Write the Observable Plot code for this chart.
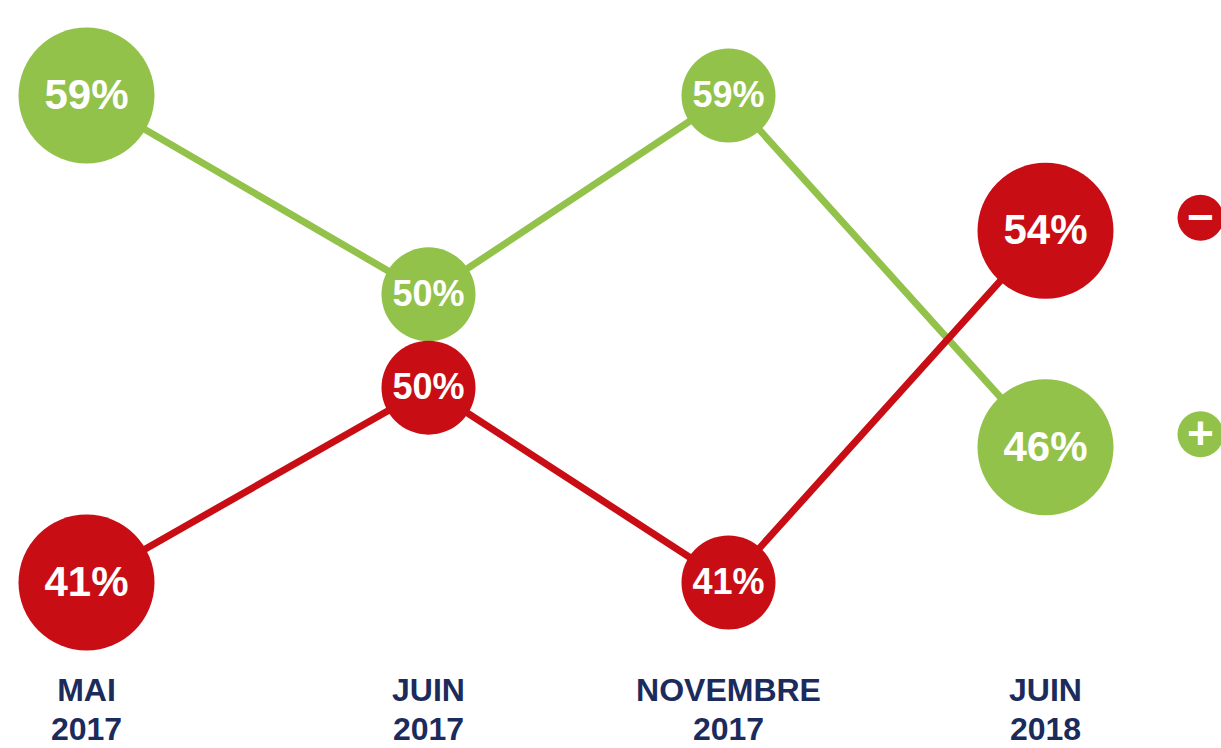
<!DOCTYPE html>
<html><head><meta charset="utf-8">
<script src="https://cdn.jsdelivr.net/npm/d3@7"></script>
<script src="https://cdn.jsdelivr.net/npm/@observablehq/plot@0.6"></script>
<style>
body{margin:0;background:#fff}
#chart svg{display:block}
</style>
</head><body><div id="chart"></div>
<script>
// ---- data ----
const periods = ["MAI 2017", "JUIN 2017", "NOVEMBRE 2017", "JUIN 2018"];
const periodLabels = ["MAI\n2017", "JUIN\n2017", "NOVEMBRE\n2017", "JUIN\n2018"];
const seriesNames = ["plus", "moins"];
const plusValues = [59, 50, 59, 46];   // green series (+)
const minusValues = [41, 50, 41, 54];  // red series (−)
const iconGlyphs = ["−", "+"];

// ---- styles ----
const GREEN = "#93c24b", RED = "#c90d14", NAVY = "#1b2b5c";
const colors = {plus: GREEN, moins: RED};
const FONT = "Liberation Sans, Arial, sans-serif";

// rows
const rows = [];
periods.forEach((p, i) => {
  const tie = plusValues[i] === minusValues[i];
  rows.push({period: p, i, series: "plus", value: plusValues[i], yv: plusValues[i] + (tie ? 1.65 : 0)});
  rows.push({period: p, i, series: "moins", value: minusValues[i], yv: minusValues[i] - (tie ? 1.8 : 0)});
});
const last = periods.length - 1;
const isEnd = d => d.i === 0 || d.i === last;
const ends = rows.filter(isEnd);
const mids = rows.filter(d => !isEnd(d));
const lastRows = seriesNames.map(s => ({
  series: s,
  value: (s === "plus" ? plusValues : minusValues)[last],
  glyph: s === "plus" ? iconGlyphs[1] : iconGlyphs[0]
}));
const periodIdx = periods.map((p, i) => i);

const chart = Plot.plot({
  width: 1221,
  height: 748,
  margin: 0,
  style: {background: "#fff", overflow: "visible"},
  x: {type: "linear", domain: [0, 1, 2, 3], range: [86, 428, 728, 1045], axis: null},
  y: {type: "linear", domain: [41, 59], range: [582, 95], axis: null},
  marks: [
    Plot.line(rows, {x: "i", y: "yv", z: "series", stroke: d => colors[d.series], strokeWidth: 7, curve: "linear"}),
    Plot.dot(ends, {x: "i", y: "yv", r: 68, fill: d => colors[d.series], stroke: "none"}),
    Plot.dot(mids, {x: "i", y: "yv", r: 47, fill: d => colors[d.series], stroke: "none"}),
    Plot.text(ends, {x: "i", y: "yv", text: d => d.value + "%", fill: "#fff", fontSize: 42, fontWeight: "bold", fontFamily: FONT}),
    Plot.text(mids, {x: "i", y: "yv", text: d => d.value + "%", fill: "#fff", fontSize: 36, fontWeight: "bold", fontFamily: FONT}),
    // icons
    Plot.dot(lastRows, {y: "value", frameAnchor: "right", dx: -21, dy: -13, r: 23, fill: d => colors[d.series], stroke: "none"}),
    Plot.text(lastRows, {y: "value", frameAnchor: "right", textAnchor: "middle", dx: -21, dy: -13, text: "glyph", fill: "#fff", fontSize: 46, fontWeight: "bold", fontFamily: FONT}),
    // period labels
    Plot.text(periodIdx, {x: d => d, text: d => periodLabels[d], frameAnchor: "bottom", lineAnchor: "bottom", lineHeight: 1.19, dy: -9, fill: NAVY, fontSize: 32, fontWeight: "bold", fontFamily: FONT})
  ]
});
document.getElementById("chart").append(chart);
</script>
</body></html>
